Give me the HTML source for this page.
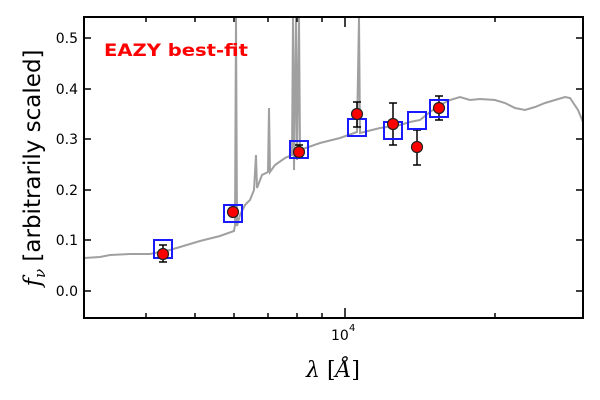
<!DOCTYPE html>
<html><head><style>body{margin:0;background:#fff}svg{display:block}</style></head><body>
<svg width="600" height="400" xmlns="http://www.w3.org/2000/svg" font-family="DejaVu Sans, Liberation Sans, sans-serif">
<rect width="600" height="400" fill="#fff"/>
<polyline fill="none" stroke="#a0a0a0" stroke-width="2" points="84,258 100,257 110,255 130,254 150,254 170,250 200,241 220,236 234,231 235,225 236,17 237,226 240,215 245,205 250,200 254,190 256,155 257,188 262,175 268,172 269,108 270,172 275,165 285,158 292,155 293,17 294,170 296,17 297,160 299,17 300,150 320,143 340,138 357,132 359,17 360,133 380,128 400,125 410,122 420,120 430,112 440,105 450,100 460,97 470,100 480,99 495,100 505,103 515,108 525,110 535,107 545,103 555,100 565,97 570,98 578,110 583,122"/>
<g stroke="#000" stroke-width="1.5">
<line x1="163" y1="245" x2="163" y2="262"/><line x1="159" y1="245" x2="167" y2="245"/><line x1="159" y1="262" x2="167" y2="262"/>
<line x1="299" y1="145" x2="299" y2="157"/><line x1="295" y1="145" x2="303" y2="145"/><line x1="295" y1="157" x2="303" y2="157"/>
<line x1="357" y1="102" x2="357" y2="127"/><line x1="353" y1="102" x2="361" y2="102"/><line x1="353" y1="127" x2="361" y2="127"/>
<line x1="393" y1="103" x2="393" y2="145"/><line x1="389" y1="103" x2="397" y2="103"/><line x1="389" y1="145" x2="397" y2="145"/>
<line x1="417" y1="130" x2="417" y2="165"/><line x1="413" y1="130" x2="421" y2="130"/><line x1="413" y1="165" x2="421" y2="165"/>
<line x1="439" y1="96" x2="439" y2="120"/><line x1="435" y1="96" x2="443" y2="96"/><line x1="435" y1="120" x2="443" y2="120"/>
</g>
<g fill="none" stroke="#1a1aff" stroke-width="2">
<rect x="154" y="240" width="18" height="18"/><rect x="224" y="205" width="18" height="17"/><rect x="290" y="141" width="18" height="17"/>
<rect x="348" y="119" width="18" height="17"/><rect x="384" y="122" width="18" height="17"/><rect x="408" y="112" width="18" height="17"/><rect x="430" y="100" width="18" height="17"/>
</g>
<g fill="#ff0000" stroke="#222" stroke-width="1.2">
<circle cx="163" cy="254" r="5.5"/><circle cx="233" cy="212" r="5.5"/><circle cx="299" cy="152" r="5.5"/><circle cx="357" cy="114" r="5.5"/><circle cx="393" cy="124" r="5.5"/><circle cx="417" cy="147" r="5.5"/><circle cx="439" cy="108" r="5.5"/>
</g>
<rect x="84" y="17" width="499" height="301" fill="none" stroke="#000" stroke-width="2"/>
<g stroke="#000" stroke-width="1.5">
<line x1="84" y1="291" x2="91" y2="291"/><line x1="84" y1="240" x2="91" y2="240"/><line x1="84" y1="190" x2="91" y2="190"/><line x1="84" y1="139" x2="91" y2="139"/><line x1="84" y1="89" x2="91" y2="89"/><line x1="84" y1="38" x2="91" y2="38"/>
<line x1="576" y1="291" x2="583" y2="291"/><line x1="576" y1="240" x2="583" y2="240"/><line x1="576" y1="190" x2="583" y2="190"/><line x1="576" y1="139" x2="583" y2="139"/><line x1="576" y1="89" x2="583" y2="89"/><line x1="576" y1="38" x2="583" y2="38"/>
<line x1="345" y1="318" x2="345" y2="308"/><line x1="345" y1="17" x2="345" y2="27"/>
<line x1="146" y1="318" x2="146" y2="313"/><line x1="195" y1="318" x2="195" y2="313"/><line x1="234" y1="318" x2="234" y2="313"/><line x1="268" y1="318" x2="268" y2="313"/><line x1="297" y1="318" x2="297" y2="313"/><line x1="322" y1="318" x2="322" y2="313"/><line x1="495" y1="318" x2="495" y2="313"/>
<line x1="146" y1="17" x2="146" y2="22"/><line x1="195" y1="17" x2="195" y2="22"/><line x1="234" y1="17" x2="234" y2="22"/><line x1="268" y1="17" x2="268" y2="22"/><line x1="297" y1="17" x2="297" y2="22"/><line x1="322" y1="17" x2="322" y2="22"/><line x1="495" y1="17" x2="495" y2="22"/>
</g>
<g font-size="14" text-anchor="end" fill="#000">
<text x="78" y="296">0.0</text><text x="78" y="245">0.1</text><text x="78" y="195">0.2</text><text x="78" y="144">0.3</text><text x="78" y="94">0.4</text><text x="78" y="43">0.5</text>
</g>
<text x="331" y="340" font-size="14">10</text><text x="349" y="331" font-size="10">4</text>
<text x="104" y="56" font-size="17" font-weight="bold" fill="#ff0000" textLength="144" lengthAdjust="spacingAndGlyphs">EAZY best-fit</text>
<text x="306" y="377" font-size="22" font-family="DejaVu Serif, serif" font-style="italic">λ <tspan font-style="normal">[</tspan>Å<tspan font-style="normal">]</tspan></text>
<text transform="translate(40,168) rotate(-90)" text-anchor="middle" font-size="23"><tspan font-family="DejaVu Serif, serif" font-style="italic">f</tspan><tspan font-size="15" dy="5" font-family="DejaVu Serif, serif" font-style="italic">ν</tspan><tspan dy="-5"> [arbitrarily scaled]</tspan></text>
</svg>
</body></html>
